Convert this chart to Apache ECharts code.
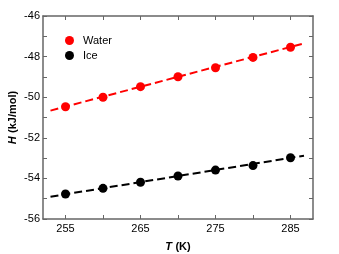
<!DOCTYPE html>
<html><head><meta charset="utf-8">
<script src="https://cdn.jsdelivr.net/npm/echarts@6/dist/echarts.min.js"></script>
<style>html,body{margin:0;padding:0;background:#fff}#c{width:339px;height:254px}</style>
</head><body><div id="c"></div>
<script>
const temps = [255, 260, 265, 270, 275, 280, 285];
const waterH = [-50.47, -50.0, -49.48, -48.99, -48.55, -48.04, -47.54];
const iceH = [-54.77, -54.49, -54.19, -53.88, -53.59, -53.37, -52.98];
const fitWater = [[253, -50.66], [286.8, -47.35]];
const fitIce = [[253, -54.9], [286.8, -52.88]];
const xLabels = [255, 265, 275, 285];
const xTicks = [255, 260, 265, 270, 275, 280, 285];

const font = 'Liberation Sans, Arial, sans-serif';
const axisCol = '#666';
const nameRich = {
  i: {fontStyle: 'italic', fontWeight: 'bold', fontSize: 11, fontFamily: font, color: '#000'},
  b: {fontWeight: 'bold', fontSize: 11, fontFamily: font, color: '#000'}
};
const chart = echarts.init(document.getElementById('c'), null, {renderer: 'canvas'});
chart.setOption({
  animation: false,
  textStyle: {fontFamily: font},
  grid: {left: 43, top: 16, right: 26, bottom: 35, containLabel: false, outerBoundsMode: 'none'},
  legend: {
    orient: 'vertical', left: 60, top: 30, itemWidth: 9, itemHeight: 9, itemGap: 4,
    data: [{name: 'Water', icon: 'circle'}, {name: 'Ice', icon: 'circle'}],
    textStyle: {fontFamily: font, fontSize: 11, color: '#000', padding: [0, 0, 0, 4]}
  },
  xAxis: [{
    type: 'value', min: 252, max: 288, position: 'bottom',
    name: '{i|T} {b|(K)}', nameLocation: 'middle', nameGap: 22, nameMoveOverlap: false,
    nameTextStyle: {rich: nameRich, color: '#000'},
    axisLine: {lineStyle: {color: axisCol, width: 1.5}},
    axisTick: {inside: true, length: 4, customValues: xTicks, lineStyle: {color: axisCol}},
    axisLabel: {customValues: xLabels, color: '#000', fontSize: 11, margin: 4, fontFamily: font},
    splitLine: {show: false}
  }, {
    type: 'value', min: 252, max: 288, position: 'top',
    axisLine: {show: true, lineStyle: {color: axisCol, width: 1.5}},
    axisTick: {inside: true, length: 4, customValues: xTicks, lineStyle: {color: axisCol}},
    axisLabel: {show: false}, splitLine: {show: false}
  }],
  yAxis: [{
    type: 'value', min: -56, max: -46, interval: 1, position: 'left',
    name: '{i|H} {b|(kJ/mol)}', nameLocation: 'middle', nameGap: 24, nameMoveOverlap: false,
    nameTextStyle: {rich: nameRich, color: '#000'},
    axisLine: {show: true, lineStyle: {color: axisCol, width: 1.5}},
    axisTick: {show: true, inside: true, length: 4, lineStyle: {color: axisCol}},
    axisLabel: {color: '#000', fontSize: 11, margin: 3, fontFamily: font,
      formatter: v => (Math.round(v) % 2 === 0 ? String(v) : '')},
    splitLine: {show: false}
  }, {
    type: 'value', min: -56, max: -46, interval: 1, position: 'right',
    axisLine: {show: true, lineStyle: {color: axisCol, width: 1.5}},
    axisTick: {show: true, inside: true, length: 4, lineStyle: {color: axisCol}},
    axisLabel: {show: false}, splitLine: {show: false}
  }],
  series: [
    {name: 'WaterFit', type: 'line', data: fitWater, showSymbol: false, symbol: 'none', z: 1,
     lineStyle: {color: '#ff0000', width: 2, type: [8, 4]}},
    {name: 'IceFit', type: 'line', data: fitIce, showSymbol: false, symbol: 'none', z: 1,
     lineStyle: {color: '#000', width: 2, type: [8, 4]}},
    {name: 'Water', type: 'scatter', data: temps.map((t, i) => [t, waterH[i]]), symbolSize: 9, z: 3,
     itemStyle: {color: '#ff0000', opacity: 1}},
    {name: 'Ice', type: 'scatter', data: temps.map((t, i) => [t, iceH[i]]), symbolSize: 9, z: 3,
     itemStyle: {color: '#000', opacity: 1}}
  ]
});
</script></body></html>
